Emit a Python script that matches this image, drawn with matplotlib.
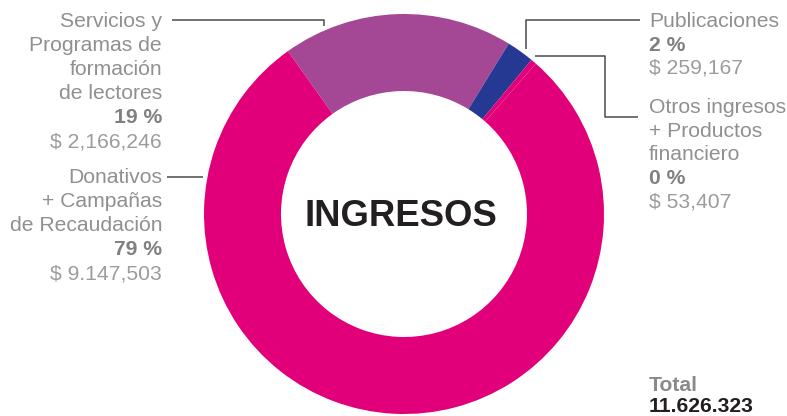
import matplotlib
matplotlib.use("Agg")
import matplotlib.pyplot as plt

# ---- data ----
categories = ["Servicios y\nProgramas de\nformación\nde lectores",
              "Publicaciones",
              "Otros ingresos\n+ Productos\nfinanciero",
              "Donativos\n+ Campañas\nde Recaudación"]
values = [2166246, 259167, 53407, 9147503]
pct_labels = ["19 %", "2 %", "0 %", "79 %"]
value_labels = ["$ 2,166,246", "$ 259,167", "$ 53,407", "$ 9.147,503"]
colors = ["#A44795", "#253993", "#E2007A", "#E2007A"]
center_title = "INGRESOS"
total_label = "Total"
total_value = "11.626.323"

W, H = 787, 416
fig = plt.figure(figsize=(W / 100, H / 100), dpi=100)
ax = fig.add_axes([0, 0, 1, 1])

def Y(ypx):
    return H - ypx

cx, cy, R = 404, 214, 200
ax.pie(values, colors=colors, startangle=125.5, counterclock=False,
       center=(cx, Y(cy)), radius=R,
       wedgeprops=dict(width=77, edgecolor="none", linewidth=0))
ax.set_xlim(0, W)
ax.set_ylim(0, H)
ax.set_aspect("auto")
ax.axis("off")

FONT = "Liberation Sans"
FS = 15.2
c_label = "#909090"
c_pct = "#808080"
c_val = "#9c9c9c"

def block(x, baselines, cat, pct, val, ha):
    lines = cat.split("\n")
    for i, ln in enumerate(lines):
        ax.text(x, Y(baselines[i]), ln, ha=ha, va="baseline", fontsize=FS,
                family=FONT, color=c_label)
    ax.text(x, Y(baselines[len(lines)]), pct, ha=ha, va="baseline", fontsize=FS,
            family=FONT, color=c_pct, fontweight="bold")
    ax.text(x, Y(baselines[len(lines) + 1]), val, ha=ha, va="baseline", fontsize=FS,
            family=FONT, color=c_val)

block(162, [27, 51, 75, 99, 123, 147], categories[0], pct_labels[0], value_labels[0], "right")
block(649, [27, 51, 74], categories[1], pct_labels[1], value_labels[1], "left")
block(649, [113, 137, 160, 184, 208], categories[2], pct_labels[2], value_labels[2], "left")
block(162, [183, 207, 231, 255, 279], categories[3], pct_labels[3], value_labels[3], "right")

lc = "#4a4a4a"
lw = 1.1
# leader lines
ax.plot([172, 324, 324], [Y(20), Y(20), Y(26)], color=lc, lw=lw, solid_capstyle="butt")
ax.plot([640, 526, 526], [Y(20), Y(20), Y(49)], color=lc, lw=lw, solid_capstyle="butt")
ax.plot([535, 605, 605, 638], [Y(56), Y(56), Y(117), Y(117)], color=lc, lw=lw, solid_capstyle="butt")
ax.plot([167, 203], [Y(177), Y(177)], color=lc, lw=lw, solid_capstyle="butt")

ax.text(400.5, Y(226), center_title, ha="center", va="baseline", fontsize=26.3,
        family=FONT, fontweight="bold", color="#231f20")

ax.text(649, Y(391), total_label, ha="left", va="baseline", fontsize=FS,
        family=FONT, fontweight="bold", color="#8a8a8a")
ax.text(649, Y(412), total_value, ha="left", va="baseline", fontsize=FS,
        family=FONT, fontweight="bold", color="#231f20")

fig.savefig("out.png", dpi=100)
